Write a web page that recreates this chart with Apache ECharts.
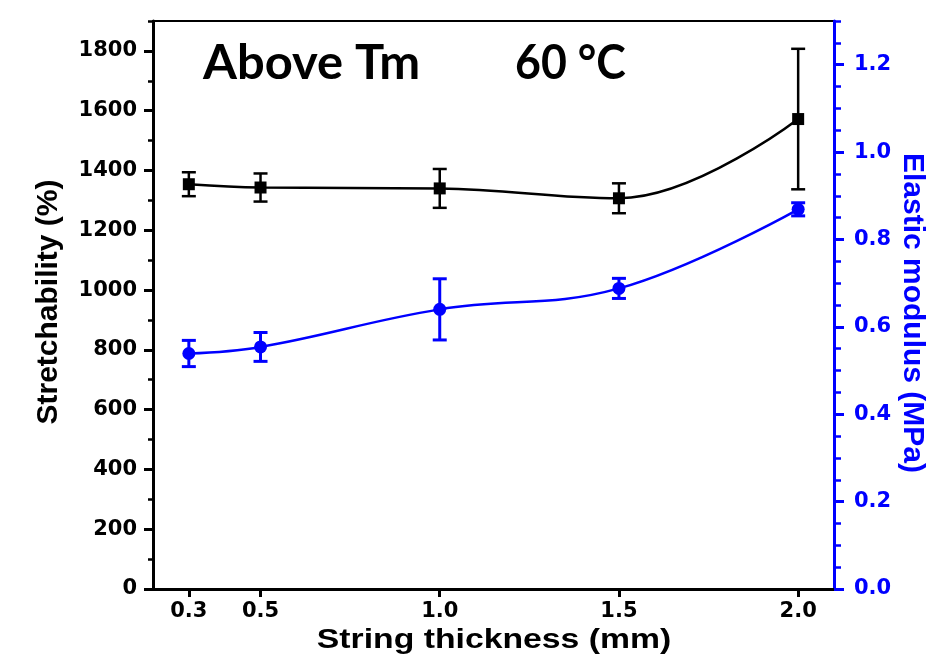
<!DOCTYPE html>
<html><head><meta charset="utf-8">
<script src="https://cdn.jsdelivr.net/npm/echarts@6/dist/echarts.min.js"></script>
<style>html,body{margin:0;padding:0;background:#fff}#c{width:927px;height:662px}</style>
</head><body><div id="c"></div>
<script>
// ---- data ----
const thickness = [0.3, 0.5, 1.0, 1.5, 2.0];
const stretchability = [1354, 1343, 1340, 1307, 1572];
const stretchabilityErr = [40, 47, 65, 50, 235];
const modulus = [0.539, 0.554, 0.640, 0.688, 0.869];
const modulusErr = [0.030, 0.033, 0.070, 0.023, 0.015];
const xTickValues = [0.3, 0.5, 1.0, 1.5, 2.0];

const BLUE = '#0000ff';
const TICKFONT = 'DejaVu Sans';

const stretchPts = thickness.map((x, i) => [x, stretchability[i]]);
const modulusPts = thickness.map((x, i) => [x, modulus[i]]);
const stretchErrPts = thickness.map((x, i) => [x, stretchability[i] - stretchabilityErr[i], stretchability[i] + stretchabilityErr[i]]);
const modulusErrPts = thickness.map((x, i) => [x, modulus[i] - modulusErr[i], modulus[i] + modulusErr[i]]);

function errRender(color, lw, cap) {
  return function (params, api) {
    const x = api.value(0), lo = api.value(1), hi = api.value(2);
    const a = api.coord([x, lo]), b = api.coord([x, hi]);
    const st = { stroke: color, lineWidth: lw };
    return { type: 'group', children: [
      { type: 'line', shape: { x1: a[0], y1: a[1], x2: b[0], y2: b[1] }, style: st },
      { type: 'line', shape: { x1: a[0] - cap, y1: a[1], x2: a[0] + cap, y2: a[1] }, style: st },
      { type: 'line', shape: { x1: b[0] - cap, y1: b[1], x2: b[0] + cap, y2: b[1] }, style: st }
    ]};
  };
}

const chart = echarts.init(document.getElementById('c'));
chart.setOption({
  animation: false,
  backgroundColor: '#fff',
  grid: { left: 153, right: 93, top: 21, bottom: 73, show: true, borderColor: '#000', borderWidth: 2, outerBoundsMode: 'none' },
  xAxis: {
    type: 'value', min: 0.2, max: 2.1,
    axisLine: { lineStyle: { color: '#000', width: 3 } },
    axisTick: { show: true, inside: false, length: 8, lineStyle: { color: '#000', width: 3 }, customValues: xTickValues },
    axisLabel: { customValues: xTickValues, formatter: v => v.toFixed(1), color: '#000', fontFamily: TICKFONT, fontWeight: 'bold', fontSize: 21, margin: 12 },
    splitLine: { show: false }
  },
  yAxis: [
    { type: 'value', position: 'left', min: 0, max: 1900, interval: 200,
      axisLine: { show: true, lineStyle: { color: '#000', width: 3 } },
      axisTick: { show: true, length: 9, lineStyle: { color: '#000', width: 3 } },
      axisLabel: { showMaxLabel: false, formatter: v => String(Math.round(v)), color: '#000', fontFamily: TICKFONT, fontWeight: 'bold', fontSize: 21, margin: 16 },
      splitLine: { show: false } },
    { type: 'value', position: 'left', min: 0, max: 1900, interval: 100,
      axisLine: { show: false },
      axisTick: { show: true, length: 5, lineStyle: { color: '#000', width: 2.5 } },
      axisLabel: { show: false }, splitLine: { show: false } },
    { type: 'value', position: 'right', min: 0, max: 1.3, interval: 0.2,
      axisLine: { show: true, lineStyle: { color: BLUE, width: 3 } },
      axisTick: { show: true, length: 10, lineStyle: { color: BLUE, width: 3 } },
      axisLabel: { showMaxLabel: false, formatter: v => v.toFixed(1), color: BLUE, fontFamily: TICKFONT, fontWeight: 'bold', fontSize: 21, margin: 20 },
      splitLine: { show: false } },
    { type: 'value', position: 'right', min: 0, max: 1.3, interval: 0.05,
      axisLine: { show: false },
      axisTick: { show: true, length: 7, lineStyle: { color: BLUE, width: 2.5 } },
      axisLabel: { show: false }, splitLine: { show: false } }
  ],
  series: [
    { type: 'custom', yAxisIndex: 0, data: stretchErrPts, encode: { x: 0, y: [1, 2] }, renderItem: errRender('#000', 2.5, 7), z: 3 },
    { type: 'custom', yAxisIndex: 2, data: modulusErrPts, encode: { x: 0, y: [1, 2] }, renderItem: errRender(BLUE, 3, 7), z: 3 },
    { type: 'line', yAxisIndex: 0, data: stretchPts, smooth: 0.4, symbol: 'rect', symbolSize: 12,
      itemStyle: { color: '#000' }, lineStyle: { color: '#000', width: 2.5 }, z: 4 },
    { type: 'line', yAxisIndex: 2, data: modulusPts, smooth: 0.4, symbol: 'circle', symbolSize: 13,
      itemStyle: { color: BLUE }, lineStyle: { color: BLUE, width: 2.5 }, z: 4 }
  ],
  graphic: [
    { type: 'text', x: 203, y: 40, scaleX: 1.04, style: { text: 'Above Tm', font: '700 47px Lato', fill: '#000' } },
    { type: 'text', x: 515, y: 40, scaleX: 0.95, style: { text: '60 °C', font: '700 47px Lato', fill: '#000' } },
    { type: 'text', x: 49, y: 302, rotation: Math.PI / 2,
      style: { text: 'Stretchability (%)', font: 'bold 30px "Liberation Sans"', fill: '#000', align: 'center', verticalAlign: 'middle' } },
    { type: 'text', x: 912, y: 313, rotation: -Math.PI / 2,
      style: { text: 'Elastic modulus (MPa)', font: 'bold 30px "Liberation Sans"', fill: BLUE, align: 'center', verticalAlign: 'middle' } },
    { type: 'text', x: 494, y: 641, scaleX: 1.25,
      style: { text: 'String thickness (mm)', font: 'bold 27px "Liberation Sans"', fill: '#000', align: 'center', verticalAlign: 'middle' } }
  ]
});
</script></body></html>
